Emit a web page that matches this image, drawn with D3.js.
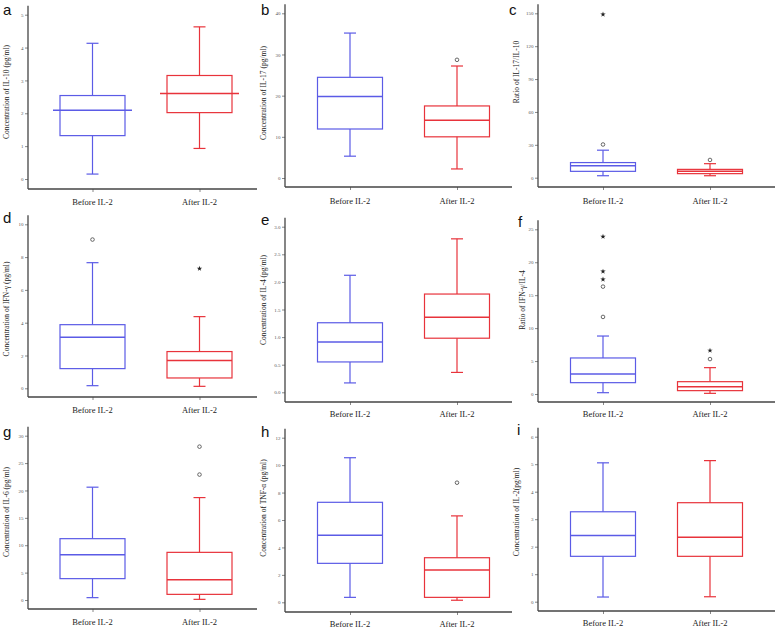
<!DOCTYPE html>
<html><head><meta charset="utf-8">
<script src="https://cdn.jsdelivr.net/npm/d3@7"></script>
<style>body{margin:0;background:#fff}svg{display:block}</style>
</head><body>
<svg id="chart" width="779" height="630"></svg>
<script>
// ---------- DATA ----------
const categories = ["Before IL-2", "After IL-2"];
const panelLetters = ["a","b","c","d","e","f","g","h","i"];
const yTitles = [
  "Concentration of IL-10 (pg/ml)",
  "Concentration of IL-17 (pg/ml)",
  "Ratio of IL-17/IL-10",
  "Concentration of IFN-\u03b3 (pg/ml)",
  "Concentration of IL-4 (pg/ml)",
  "Ratio of IFN-\u03b3/IL-4",
  "Concentration of IL-6 (pg/ml)",
  "Concentration of TNF-\u03b1 (pg/ml)",
  "Concentration of IL-2(pg/ml)"
];
const yTickValues = [
  [0,1,2,3,4,5],
  [0,10,20,30,40],
  [0,30,60,90,120,150],
  [0,2,4,6,8,10],
  [0,0.5,1.0,1.5,2.0,2.5,3.0],
  [0,5,10,15,20,25],
  [0,5,10,15,20,25,30],
  [0,2,4,6,8,10,12],
  [0,1,2,3,4,5,6]
];
const yTickFormats = ["d","d","d","d",".1f","d","d","d","d"];
// five-number summaries [min, Q1, median, Q3, max]
const beforeStats = [
  [0.15,1.32,2.09,2.54,4.13],
  [5.3,11.9,19.8,24.45,35.2],
  [1.8,5.8,11.0,13.8,25.1],
  [0.16,1.2,3.11,3.88,7.66],
  [0.17,0.55,0.91,1.26,2.12],
  [0.2,1.72,3.04,5.47,8.8],
  [0.43,3.9,8.28,11.2,20.6],
  [0.36,2.84,4.88,7.29,10.54],
  [0.17,1.65,2.41,3.27,5.05]
];
const afterStats = [
  [0.93,2.02,2.6,3.15,4.63],
  [2.2,10.0,14.0,17.5,27.2],
  [1.8,3.7,5.8,7.6,12.8],
  [0.12,0.63,1.69,2.24,4.37],
  [0.36,0.98,1.36,1.78,2.78],
  [0.1,0.51,1.11,1.87,4.0],
  [0.12,1.03,3.7,8.7,18.7],
  [0.15,0.36,2.35,3.25,6.3],
  [0.18,1.65,2.34,3.6,5.13]
];
// outliers: circles (mild) and stars (extreme)
const beforeCircles = [[],[],[30.3],[9.07],[],[11.7,16.3],[],[],[]];
const beforeStars   = [[],[],[149],[],[],[17.4,18.6,23.9],[],[],[]];
const afterCircles  = [[],[28.7],[16.2],[],[],[5.3],[22.9,28.0],[8.72],[]];
const afterStars    = [[],[],[],[7.3],[],[6.6],[],[],[]];

// ---------- LAYOUT ----------
const colLayout = [
  {axisX:28, c1:92.5, c2:199.5, right:257},
  {axisX:285, c1:350, c2:457, right:512},
  {axisX:538, c1:603, c2:710, right:775}
];
const rowLayout = [
  {top:14.7, zero:179, base:189, lab:205},
  {top:13.3, zero:178, base:187, lab:204},
  {top:13.3, zero:177.7, base:187, lab:204},
  {top:224.3, zero:388.3, base:397, lab:413},
  {top:226.7, zero:392.3, base:402, lab:417},
  {top:229.3, zero:394, base:402, lab:417},
  {top:435.7, zero:600, base:609, lab:625},
  {top:437.7, zero:602.3, base:612, lab:627},
  {top:436.7, zero:601.7, base:611, lab:626}
];
const titleCenters = [92,93,72,309,300,300,512,508,512];
const titleOffsets = [21,21,21,21,21,15,21,21,21];
const letterPos = [[3,15],[261,15],[509,15],[3,223],[261,225],[518,227],[3,437],[261,437],[517,435]];
const medianExtends = [true,false,false,false,false,false,false,false,false];

const colors = ["#5b5be6", "#e8333b"];
const boxW = 65, capW = 12;

const svg = d3.select("#chart");

for (let p = 0; p < 9; p++) {
  const col = colLayout[p % 3], row = rowLayout[p];
  const ticks = yTickValues[p];
  const y = d3.scaleLinear().domain([0, ticks[ticks.length-1]]).range([row.zero, row.top]);
  const x = d3.scalePoint().domain(categories).range([col.c1, col.c2]);
  const g = svg.append("g");

  g.append("text").attr("x", letterPos[p][0]).attr("y", letterPos[p][1])
    .attr("font-family", "Liberation Sans, Arial, sans-serif").attr("font-size", 15)
    .attr("fill", "#111").text(panelLetters[p]);

  const yAxis = d3.axisLeft(y).tickValues(ticks).tickSize(3).tickPadding(1.5)
    .tickFormat(d3.format(yTickFormats[p]));
  const ya = g.append("g").attr("transform", `translate(${col.axisX},0)`).call(yAxis);
  ya.select(".domain").remove();
  ya.selectAll(".tick line").attr("stroke", "#555").attr("stroke-width", 0.7);
  ya.selectAll(".tick text").attr("font-family", "Liberation Serif, serif")
    .attr("font-size", 5).attr("fill", "#555");
  g.append("line").attr("x1", col.axisX).attr("x2", col.axisX)
    .attr("y1", row.top - 9).attr("y2", row.base)
    .attr("stroke", "#444").attr("stroke-width", 1.3);

  const xAxis = d3.axisBottom(x).tickSize(3).tickFormat("");
  const xa = g.append("g").attr("transform", `translate(0,${row.base})`).call(xAxis);
  xa.select(".domain").remove();
  xa.selectAll(".tick line").attr("stroke", "#555").attr("stroke-width", 0.7);
  g.append("line").attr("x1", col.axisX).attr("x2", col.right)
    .attr("y1", row.base).attr("y2", row.base)
    .attr("stroke", "#444").attr("stroke-width", 1.3);
  categories.forEach(c => {
    g.append("text").attr("x", x(c)).attr("y", row.lab)
      .attr("text-anchor", "middle").attr("font-family", "Liberation Serif, serif")
      .attr("font-size", 8.5).attr("fill", "#222").text(c);
  });

  g.append("text")
    .attr("transform", `translate(${col.axisX - titleOffsets[p]},${titleCenters[p]}) rotate(-90)`)
    .attr("text-anchor", "middle").attr("dominant-baseline", "middle")
    .attr("font-family", "Liberation Serif, serif").attr("font-size", 7.5)
    .attr("fill", "#222").text(yTitles[p]);

  const sets = [
    {cat: categories[0], s: beforeStats[p], circ: beforeCircles[p], star: beforeStars[p], color: colors[0]},
    {cat: categories[1], s: afterStats[p], circ: afterCircles[p], star: afterStars[p], color: colors[1]}
  ];
  sets.forEach(d => {
    const cx = x(d.cat);
    const [mn, q1, md, q3, mx] = d.s;
    const bg = g.append("g").attr("stroke", d.color).attr("fill", "none").attr("stroke-width", 1.2);
    bg.append("line").attr("x1", cx).attr("x2", cx).attr("y1", y(mx)).attr("y2", y(q3));
    bg.append("line").attr("x1", cx).attr("x2", cx).attr("y1", y(q1)).attr("y2", y(mn));
    bg.append("line").attr("x1", cx - capW/2).attr("x2", cx + capW/2).attr("y1", y(mx)).attr("y2", y(mx));
    bg.append("line").attr("x1", cx - capW/2).attr("x2", cx + capW/2).attr("y1", y(mn)).attr("y2", y(mn));
    bg.append("rect").attr("x", cx - boxW/2).attr("width", boxW)
      .attr("y", y(q3)).attr("height", y(q1) - y(q3));
    const ext = medianExtends[p] ? 7 : 0;
    bg.append("line").attr("x1", cx - boxW/2 - ext).attr("x2", cx + boxW/2 + ext)
      .attr("y1", y(md)).attr("y2", y(md)).attr("stroke-width", 1.5);
    d.circ.forEach(v => {
      g.append("circle").attr("cx", cx).attr("cy", y(v)).attr("r", 1.8)
        .attr("fill", "#fff").attr("stroke", "#444").attr("stroke-width", 0.8);
    });
    d.star.forEach(v => {
      g.append("path").attr("d", d3.symbol(d3.symbolStar, 9)())
        .attr("transform", `translate(${cx},${y(v)})`).attr("fill", "#222");
    });
  });
}
</script>
</body></html>
